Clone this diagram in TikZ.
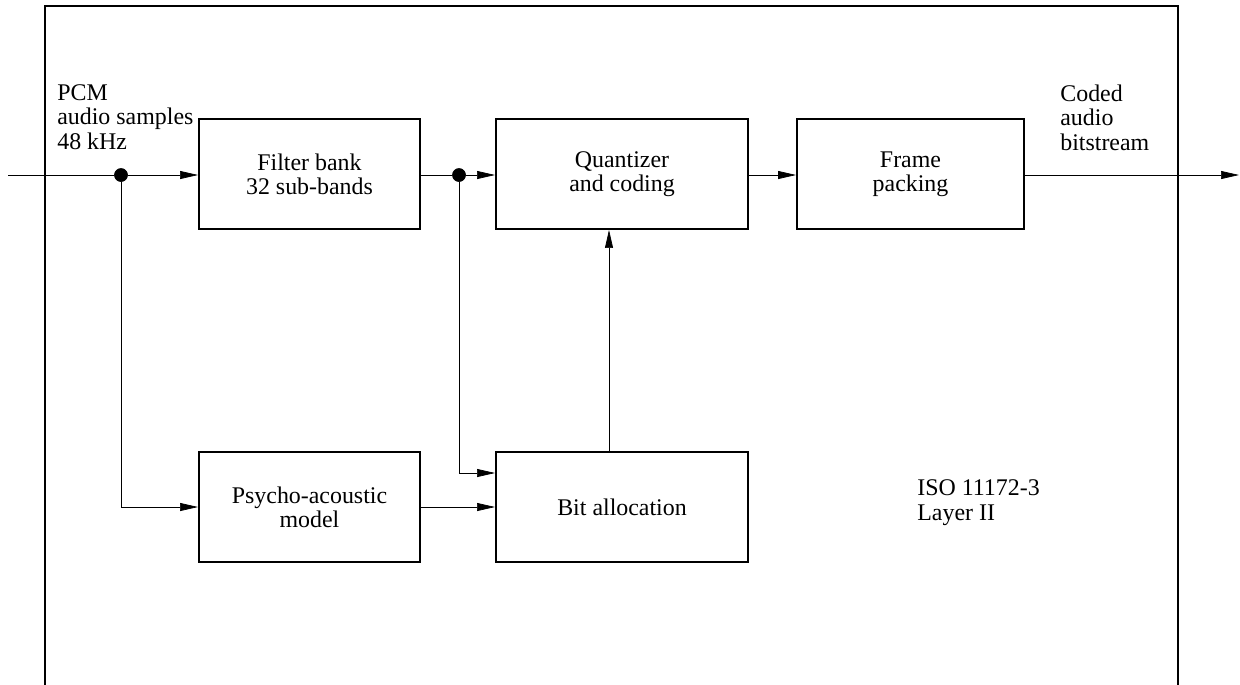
\documentclass[tikz,border=0pt]{standalone}
\usepackage{fontspec}
\setmainfont{Liberation Serif}
\usetikzlibrary{arrows.meta,calc,positioning}
\tikzset{
    -{Triangle[length=3.6mm,width=1.6mm]},semithick,
    block/.style ={rectangle, draw, line width=1.1pt, -, align=center,
                   font=\fontsize{13.6}{13.8}\selectfont},
    point/.style = {circle, draw, inner sep=0pt, minimum size=0.26cm, fill, node contents={}},
    txt/.style = {inner sep=0pt, align=left, anchor=base west,
                  font=\fontsize{13.6}{13.8}\selectfont},
    wire/.style = {-}
}

\begin{document}
\begin{tikzpicture}[x=0.02cm,y=-0.02cm]
    \useasboundingbox (0,0) rectangle (1240,684);
    % outer frame, open at the bottom
    \draw[-, line width=1.1pt] (45,700) -- (45,6) -- (1178,6) -- (1178,700);

    \coordinate (in) at (8,175);
    \coordinate (out) at (1239,175);
    \node (d1) at (121,175) [point];
    \node (d2) at (459,175) [point];

    \node (fb) at (309.5,174) [block, minimum width=221*0.02cm, minimum height=110*0.02cm] {Filter bank\\32 sub-bands};
    \node (qc) at (622,174) [block, minimum width=252*0.02cm, minimum height=110*0.02cm] {Quantizer\\and coding};
    \node (fp) at (910.5,174) [block, minimum width=227*0.02cm, minimum height=110*0.02cm] {Frame\\packing};
    \node (pa) at (309.5,507) [block, minimum width=221*0.02cm, minimum height=110*0.02cm] {Psycho-acoustic\\model};
    \node (ba) at (622,507) [block, minimum width=252*0.02cm, minimum height=110*0.02cm] {Bit allocation};

    % base anchor sits on the last line
    \node (pcm) at (57,149) [txt] {PCM\\audio samples\\48 kHz};
    \node (cab) at (1060,150) [txt] {Coded\\audio\\bitstream};
    \node (iso) at (917,520) [txt] {ISO 11172-3\\Layer II};

    \draw[wire] (in) -- (d1);
    \path (d1) edge (d1 -| fb.west);
    \draw[wire] (d1 -| fb.east) -- (d2);
    \path (d2) edge (d2 -| qc.west);
    \path (d2 -| qc.east) edge (d2 -| fp.west);
    \path (d2 -| fp.east) edge (out);
    \draw (d1) |- (pa.west);
    \draw (d2) |- ($(ba.west)+(0,-34)$);
    \path (pa) edge (ba);
    \path ($(ba.north)+(-13,0)$) edge ($(qc.south)+(-13,0)$);
\end{tikzpicture}
\end{document}
